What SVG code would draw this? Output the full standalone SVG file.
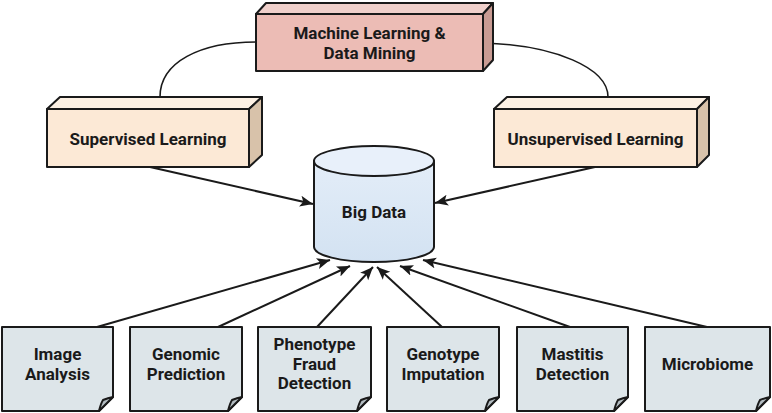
<svg xmlns="http://www.w3.org/2000/svg" width="772" height="413" viewBox="0 0 772 413">
<style>
.t{font-family:Roboto,"Liberation Sans",sans-serif;font-weight:bold;font-size:17px;fill:#1a1a1a;text-anchor:middle}
.s{stroke:#1a1a1a;stroke-width:2;stroke-linejoin:round}
.c{fill:none;stroke:#1a1a1a;stroke-width:1.6}
.a{fill:none;stroke:#1a1a1a;stroke-width:2;marker-end:url(#ah)}
.nf{fill:#dde5e9}
.fold{fill:#b3bcc1}
</style>
<defs>
<marker id="ah" markerUnits="userSpaceOnUse" markerWidth="14" markerHeight="12" refX="13" refY="5.5" orient="auto">
<path d="M0,0 L13,5.5 L0,11 L3,5.5 Z" fill="#1a1a1a"/>
</marker>
<linearGradient id="cyl" x1="0" y1="0" x2="0" y2="1">
<stop offset="0" stop-color="#e3edf8"/>
<stop offset="1" stop-color="#d3e2f2"/>
</linearGradient>
</defs>

<g id="connectors">
<path class="c" d="M160,97 C160,62 200,42 256,42"/>
<path class="c" d="M483,43 C555,45 608,68 608,97"/>
<path class="a" d="M150,167 L313,204"/>
<path class="a" d="M595,167 L435,203"/>
<path class="a" d="M97,327 L330,260"/>
<path class="a" d="M218,327 L350,266"/>
<path class="a" d="M317,327 L373,267"/>
<path class="a" d="M442,327 L377,267"/>
<path class="a" d="M570,327 L400,266"/>
<path class="a" d="M707,327 L423,260"/>
</g>

<g id="ml-dm">
<polygon class="s" fill="#f0d0cb" points="256,14 266,3 493,3 483,14"/>
<polygon class="s" fill="#c99b93" points="483,14 493,3 493,60 483,71"/>
<rect class="s" fill="#ecbcb5" x="256" y="14" width="227" height="57"/>
<text class="t" x="369.5" y="39">Machine Learning &amp;</text>
<text class="t" x="369.5" y="59">Data Mining</text>
</g>

<g id="supervised">
<polygon class="s" fill="#fdf1e4" points="47,109 60,97 262,97 249,109"/>
<polygon class="s" fill="#d8c2aa" points="249,109 262,97 262,155 249,167"/>
<rect class="s" fill="#fce9d6" x="47" y="109" width="202" height="58"/>
<text class="t" x="148" y="145">Supervised Learning</text>
</g>

<g id="unsupervised">
<polygon class="s" fill="#fdf1e4" points="494,109 507,97 709,97 697,109"/>
<polygon class="s" fill="#d8c2aa" points="697,109 709,97 709,155 697,167"/>
<rect class="s" fill="#fce9d6" x="494" y="109" width="203" height="58"/>
<text class="t" x="595.5" y="145">Unsupervised Learning</text>
</g>

<g id="big-data">
<path class="s" fill="url(#cyl)" d="M314,161 L314,247 A60,15 0 0 0 434,247 L434,161 Z"/>
<ellipse class="s" fill="#e8f0fa" cx="374" cy="161" rx="60" ry="15"/>
<text class="t" x="374" y="218">Big Data</text>
</g>

<g id="image-analysis">
<path class="s nf" d="M2,327 H113 V397 L99,411 H2 Z"/>
<path class="s fold" stroke-width="1.5" d="M113,397 L99,411 Q101,403 103,400 Q108,398 113,397 Z"/>
<text class="t" x="57.5" y="360">Image</text>
<text class="t" x="57.5" y="380">Analysis</text>
</g>

<g id="genomic-prediction">
<path class="s nf" d="M130,327 H242 V397 L228,411 H130 Z"/>
<path class="s fold" stroke-width="1.5" d="M242,397 L228,411 Q230,403 232,400 Q237,398 242,397 Z"/>
<text class="t" x="186" y="360">Genomic</text>
<text class="t" x="186" y="380">Prediction</text>
</g>

<g id="phenotype-fraud">
<path class="s nf" d="M258,327 H371 V397 L357,411 H258 Z"/>
<path class="s fold" stroke-width="1.5" d="M371,397 L357,411 Q359,403 361,400 Q366,398 371,397 Z"/>
<text class="t" x="314.5" y="350">Phenotype</text>
<text class="t" x="314.5" y="369.5">Fraud</text>
<text class="t" x="314.5" y="389">Detection</text>
</g>

<g id="genotype-imputation">
<path class="s nf" d="M387,327 H499 V397 L485,411 H387 Z"/>
<path class="s fold" stroke-width="1.5" d="M499,397 L485,411 Q487,403 489,400 Q494,398 499,397 Z"/>
<text class="t" x="443" y="360">Genotype</text>
<text class="t" x="443" y="380">Imputation</text>
</g>

<g id="mastitis-detection">
<path class="s nf" d="M517,327 H628 V397 L614,411 H517 Z"/>
<path class="s fold" stroke-width="1.5" d="M628,397 L614,411 Q616,403 618,400 Q623,398 628,397 Z"/>
<text class="t" x="572.5" y="360">Mastitis</text>
<text class="t" x="572.5" y="380">Detection</text>
</g>

<g id="microbiome">
<path class="s nf" d="M645,327 H770 V397 L756,411 H645 Z"/>
<path class="s fold" stroke-width="1.5" d="M770,397 L756,411 Q758,403 760,400 Q765,398 770,397 Z"/>
<text class="t" x="707.5" y="370">Microbiome</text>
</g>
</svg>
